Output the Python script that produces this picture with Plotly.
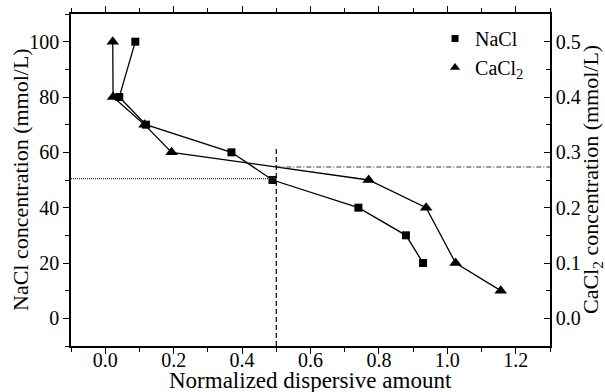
import plotly.graph_objects as go

# NaCl (left axis, mmol/L)
nacl_x = [0.088, 0.041, 0.119, 0.369, 0.489, 0.740, 0.879, 0.929]
nacl_y = [100, 80, 70, 60, 50, 40, 30, 20]

# CaCl2 (right axis, mmol/L)
cacl2_x = [0.022, 0.023, 0.115, 0.194, 0.770, 0.938, 1.024, 1.156]
cacl2_y = [0.50, 0.40, 0.35, 0.30, 0.25, 0.20, 0.10, 0.05]

# reference lines
ref_x = 0.5
ref_v_top = 62
ref_nacl = 50.5
ref_cacl2 = 0.2735

x_range = [-0.1, 1.3]
y_range = [-10, 110]
y2_range = [-0.05, 0.55]

FONT = "Liberation Serif, Times New Roman, Times, serif"
FS = 20
TFS = 23

fig = go.Figure()
fig.add_trace(go.Scatter(x=nacl_x, y=nacl_y, mode="lines+markers", showlegend=False,
                         line=dict(color="black", width=1.3),
                         marker=dict(symbol="square", size=8, color="black")))
fig.add_trace(go.Scatter(x=cacl2_x, y=cacl2_y, yaxis="y2", mode="lines+markers", showlegend=False,
                         line=dict(color="black", width=1.3),
                         marker=dict(symbol="triangle-up", size=11, color="black")))
fig.add_trace(go.Scatter(x=[None], y=[None], mode="markers", name="NaCl",
                         marker=dict(symbol="square", size=7, color="black")))
fig.add_trace(go.Scatter(x=[None], y=[None], mode="markers", name="CaCl<sub>2</sub>",
                         marker=dict(symbol="triangle-up", size=9, color="black")))

fig.add_shape(type="line", xref="x", yref="y", x0=ref_x, x1=ref_x, y0=y_range[0], y1=ref_v_top,
              line=dict(color="black", width=1.2, dash="5px,3px"))
fig.add_shape(type="line", xref="x", yref="y", x0=x_range[0], x1=ref_x, y0=ref_nacl, y1=ref_nacl,
              line=dict(color="#333333", width=1.2, dash="1px,1px"))
fig.add_shape(type="line", xref="x", yref="y2", x0=ref_x, x1=x_range[1], y0=ref_cacl2, y1=ref_cacl2,
              line=dict(color="#333333", width=1.2, dash="5px,2px,1px,2px"))

axis_common = dict(showline=True, linecolor="black", linewidth=1.5,
                   ticklen=6, tickwidth=1.3, tickcolor="black", showgrid=False, zeroline=False,
                   tickfont=dict(family=FONT, size=FS, color="black"))

fig.add_annotation(text="Normalized dispersive amount", xref="paper", yref="paper",
                   x=0.5, y=0, yshift=-34, xanchor="center", yanchor="middle", showarrow=False,
                   font=dict(family=FONT, size=TFS, color="black"))
fig.add_annotation(text="NaCl concentration (mmol/L)", xref="paper", yref="paper",
                   x=0, y=0.5, xshift=-51, xanchor="center", yanchor="middle",
                   textangle=-90, showarrow=False,
                   font=dict(family=FONT, size=TFS - 1, color="black"))
fig.add_annotation(text="CaCl<sub>2</sub> concentration (mmol/L)", xref="paper", yref="paper",
                   x=1, y=0.5, xshift=42, xanchor="center", yanchor="middle",
                   textangle=-90, showarrow=False,
                   font=dict(family=FONT, size=TFS - 1, color="black"))

fig.update_layout(
    width=605, height=392,
    margin=dict(l=71, r=55, t=14, b=46, autoexpand=False),
    paper_bgcolor="white", plot_bgcolor="white",
    font=dict(family=FONT, size=FS, color="black"),
    xaxis=dict(range=x_range, dtick=0.2, tick0=0, tickformat=".1f", mirror="ticks", ticks="outside",
               automargin=False, ticklabelstandoff=-11,
               minor=dict(dtick=0.1, ticks="outside", ticklen=4, tickcolor="black", tickwidth=1.2),
               **axis_common),
    yaxis=dict(range=y_range, dtick=20, tick0=0, ticks="outside", automargin=False,
               minor=dict(dtick=10, ticks="outside", ticklen=4, tickcolor="black", tickwidth=1.2),
               **axis_common),
    yaxis2=dict(range=y2_range, dtick=0.1, tick0=0, tickformat=".1f", overlaying="y", side="right",
                ticks="inside", automargin=False,
                minor=dict(dtick=0.05, ticks="inside", ticklen=4, tickcolor="black", tickwidth=1.2),
                **axis_common),
    legend=dict(x=0.76, y=0.985, xanchor="left", yanchor="top", bgcolor="rgba(0,0,0,0)",
                font=dict(family=FONT, size=FS), tracegroupgap=0),
)

fig.write_html("out.html", config={"displayModeBar": False},
               post_script="document.body.style.margin='0';document.body.style.padding='0';")
